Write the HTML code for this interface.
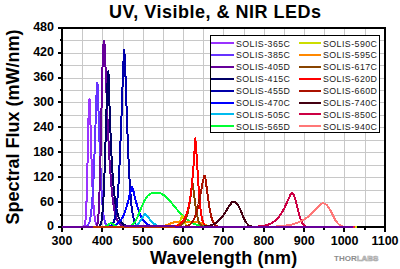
<!DOCTYPE html>
<html><head><meta charset="utf-8"><style>
html,body{margin:0;padding:0;background:#fff;width:400px;height:269px;overflow:hidden}
svg{display:block;position:absolute;left:0;top:0}
</style></head><body>
<svg width="400" height="269" viewBox="0 0 400 269">
<path d="M82.5,28V227 M102.5,28V227 M123.5,28V227 M143.5,28V227 M163.5,28V227 M183.5,28V227 M203.5,28V227 M223.5,28V227 M244.5,28V227 M264.5,28V227 M284.5,28V227 M304.5,28V227 M324.5,28V227 M344.5,28V227 M365.5,28V227 M62,215.5H385 M62,202.5H385 M62,190.5H385 M62,177.5H385 M62,165.5H385 M62,152.5H385 M62,140.5H385 M62,127.5H385 M62,115.5H385 M62,102.5H385 M62,90.5H385 M62,78.5H385 M62,65.5H385 M62,53.5H385 M62,40.5H385" stroke="#c8c8c8" stroke-width="1" fill="none" shape-rendering="crispEdges"/>
<path d="M58,28H385M62,27V232M385,27V228M61,227H385" stroke="#000" stroke-width="2" fill="none" shape-rendering="crispEdges"/>
<path d="M58,202H61 M58,177H61 M58,152H61 M58,127H61 M58,102H61 M58,78H61 M58,53H61 M58,28H61 M58,227H61 M60,215H61 M60,190H61 M60,165H61 M60,140H61 M60,115H61 M60,90H61 M60,65H61 M60,40H61 M62,228V232 M102,228V232 M143,228V232 M183,228V232 M223,228V232 M264,228V232 M304,228V232 M344,228V232 M385,228V232 M82,228V230 M123,228V230 M163,228V230 M203,228V230 M244,228V230 M284,228V230 M324,228V230 M365,228V230" stroke="#000" stroke-width="2" fill="none" shape-rendering="crispEdges"/>
<path d="M83.4,226.9 83.8,226.7 84.2,226.3 84.6,225.6 85.0,224.1 85.4,221.4 85.8,216.8 86.2,209.7 86.6,199.3 87.0,185.4 87.4,168.3 87.8,149.3 88.2,130.3 88.6,113.9 89.1,102.8 89.5,98.9 89.9,105.9 90.3,117.7 90.7,131.3 91.1,145.2 91.5,158.6 91.9,170.8 92.3,181.7 92.7,191.0 93.1,198.8 93.5,205.2 93.9,210.4 94.3,214.5 94.7,217.8 95.1,220.2 95.5,222.1 95.9,223.5 96.3,224.5 96.7,225.2 97.1,225.8 97.5,226.2 97.9,226.4 98.3,226.6 98.7,226.7 99.1,226.8" stroke="#9933ff" stroke-width="2" fill="none" stroke-linejoin="round" shape-rendering="crispEdges"/>
<path d="M85.0,226.8 85.4,226.7 85.8,226.6 86.2,226.4 86.6,226.2 87.0,226.0 87.4,225.6 87.8,225.2 88.2,224.6 88.6,223.9 89.1,222.9 89.5,221.7 89.9,220.2 90.3,218.2 90.7,215.9 91.1,213.0 91.5,209.5 91.9,205.2 92.3,200.1 92.7,194.2 93.1,187.2 93.5,179.2 93.9,170.2 94.3,160.1 94.7,149.1 95.1,137.3 95.5,125.0 95.9,112.6 96.3,100.7 96.7,90.1 97.1,82.5 97.5,83.8 97.9,92.7 98.3,104.1 98.7,116.7 99.1,129.6 99.5,142.2 100.0,154.2 100.4,165.2 100.8,175.1 101.2,183.9 101.6,191.5 102.0,198.1 102.4,203.7 102.8,208.3 103.2,212.2 103.6,215.3 104.0,217.9 104.4,219.9 104.8,221.5 105.2,222.8 105.6,223.8 106.0,224.6 106.4,225.2 106.8,225.7 107.2,226.0 107.6,226.3 108.0,226.5 108.4,226.6 108.8,226.7 109.2,226.8" stroke="#6633ff" stroke-width="2" fill="none" stroke-linejoin="round" shape-rendering="crispEdges"/>
<path d="M95.9,226.8 96.3,226.6 96.7,226.1 97.1,225.2 97.5,223.6 97.9,221.1 98.3,217.0 98.7,211.0 99.1,202.6 99.5,191.6 100.0,177.7 100.4,161.3 100.8,143.0 101.2,123.6 101.6,104.3 102.0,86.2 102.4,70.4 102.8,57.8 103.2,48.7 103.6,43.2 104.0,40.8 104.4,41.3 104.8,48.9 105.2,58.4 105.6,68.9 106.0,79.6 106.4,90.2 106.8,100.7 107.2,110.9 107.6,120.6 108.0,129.8 108.4,138.5 108.8,146.6 109.2,154.2 109.6,161.2 110.0,167.7 110.5,173.7 110.9,179.1 111.3,184.1 111.7,188.7 112.1,192.8 112.5,196.6 112.9,199.9 113.3,203.0 113.7,205.7 114.1,208.2 114.5,210.4 114.9,212.3 115.3,214.1 115.7,215.6 116.1,217.0 116.5,218.2 116.9,219.3 117.3,220.3 117.7,221.1 118.1,221.9 118.5,222.5 118.9,223.1 119.3,223.6 119.7,224.1 120.1,224.4 120.5,224.8 120.9,225.1 121.4,225.3 121.8,225.6 122.2,225.8 122.6,225.9 123.0,226.1 123.4,226.2 123.8,226.3 124.2,226.4 124.6,226.5 125.0,226.6 125.4,226.6 125.8,226.7 126.6,226.8" stroke="#660099" stroke-width="2" fill="none" stroke-linejoin="round" shape-rendering="crispEdges"/>
<path d="M98.3,226.8 98.7,226.7 99.1,226.4 99.5,226.1 100.0,225.6 100.4,224.9 100.8,223.8 101.2,222.3 101.6,220.2 102.0,217.3 102.4,213.6 102.8,208.8 103.2,202.7 103.6,195.4 104.0,186.6 104.4,176.4 104.8,164.9 105.2,152.4 105.6,139.2 106.0,125.7 106.4,112.5 106.8,100.2 107.2,89.4 107.6,80.7 108.0,74.7 108.4,71.5 108.8,79.5 109.2,95.0 109.6,108.9 110.0,121.3 110.5,132.5 110.9,142.4 111.3,151.3 111.7,159.3 112.1,166.4 112.5,172.8 112.9,178.5 113.3,183.6 113.7,188.1 114.1,192.2 114.5,195.9 114.9,199.1 115.3,202.1 115.7,204.7 116.1,207.0 116.5,209.1 116.9,211.0 117.3,212.7 117.7,214.2 118.1,215.5 118.5,216.8 118.9,217.8 119.3,218.8 119.7,219.7 120.1,220.4 120.5,221.1 120.9,221.7 121.4,222.3 121.8,222.8 122.2,223.2 122.6,223.6 123.0,224.0 123.4,224.3 123.8,224.6 124.2,224.8 124.6,225.1 125.0,225.3 125.4,225.5 125.8,225.6 126.2,225.8 126.6,225.9 127.0,226.0 127.4,226.1 127.8,226.2 128.2,226.3 128.6,226.4 129.0,226.4 129.4,226.5 129.8,226.5 130.6,226.6 131.4,226.7 132.3,226.8" stroke="#000066" stroke-width="2" fill="none" stroke-linejoin="round" shape-rendering="crispEdges"/>
<path d="M108.4,226.8 108.8,226.7 109.2,226.6 109.6,226.5 110.0,226.3 110.5,226.2 110.9,225.9 111.3,225.7 111.7,225.3 112.1,224.9 112.5,224.4 112.9,223.8 113.3,223.0 113.7,222.1 114.1,220.9 114.5,219.6 114.9,218.0 115.3,216.1 115.7,213.8 116.1,211.2 116.5,208.1 116.9,204.5 117.3,200.3 117.7,195.5 118.1,190.1 118.5,184.0 118.9,177.1 119.3,169.4 119.7,160.9 120.1,151.6 120.5,141.6 120.9,130.9 121.4,119.6 121.8,108.0 122.2,96.1 122.6,84.4 123.0,73.1 123.4,63.0 123.8,54.7 124.2,50.0 124.6,54.7 125.0,63.0 125.4,73.1 125.8,84.4 126.2,96.1 126.6,108.0 127.0,119.6 127.4,130.9 127.8,141.6 128.2,151.6 128.6,160.9 129.0,169.4 129.4,177.1 129.8,184.0 130.2,190.1 130.6,195.5 131.0,200.3 131.4,204.5 131.8,208.1 132.3,211.2 132.7,213.8 133.1,216.1 133.5,218.0 133.9,219.6 134.3,220.9 134.7,222.1 135.1,223.0 135.5,223.8 135.9,224.4 136.3,224.9 136.7,225.3 137.1,225.7 137.5,225.9 137.9,226.2 138.3,226.3 138.7,226.5 139.1,226.6 139.5,226.7 139.9,226.8" stroke="#0000aa" stroke-width="2" fill="none" stroke-linejoin="round" shape-rendering="crispEdges"/>
<path d="M106.4,226.8 107.2,226.7 108.0,226.7 108.8,226.6 109.2,226.5 109.6,226.5 110.0,226.4 110.5,226.4 110.9,226.3 111.3,226.2 111.7,226.1 112.1,226.0 112.5,225.9 112.9,225.8 113.3,225.7 113.7,225.6 114.1,225.5 114.5,225.3 114.9,225.1 115.3,224.9 115.7,224.7 116.1,224.5 116.5,224.3 116.9,224.0 117.3,223.8 117.7,223.5 118.1,223.1 118.5,222.8 118.9,222.4 119.3,222.0 119.7,221.5 120.1,221.0 120.5,220.5 120.9,219.9 121.4,219.3 121.8,218.7 122.2,218.0 122.6,217.3 123.0,216.5 123.4,215.6 123.8,214.7 124.2,213.8 124.6,212.7 125.0,211.7 125.4,210.5 125.8,209.3 126.2,208.1 126.6,206.8 127.0,205.4 127.4,203.9 127.8,202.5 128.2,200.9 128.6,199.3 129.0,197.7 129.4,196.1 129.8,194.4 130.2,192.8 130.6,191.2 131.0,189.6 131.4,188.2 131.8,187.1 132.3,187.3 132.7,188.5 133.1,189.9 133.5,191.5 133.9,193.1 134.3,194.8 134.7,196.4 135.1,198.0 135.5,199.7 135.9,201.2 136.3,202.8 136.7,204.2 137.1,205.7 137.5,207.0 137.9,208.3 138.3,209.6 138.7,210.8 139.1,211.9 139.5,212.9 139.9,214.0 140.3,214.9 140.7,215.8 141.1,216.6 141.5,217.4 141.9,218.1 142.3,218.8 142.8,219.5 143.2,220.1 143.6,220.6 144.0,221.1 144.4,221.6 144.8,222.0 145.2,222.5 145.6,222.8 146.0,223.2 146.4,223.5 146.8,223.8 147.2,224.1 147.6,224.3 148.0,224.6 148.4,224.8 148.8,225.0 149.2,225.2 149.6,225.3 150.0,225.5 150.4,225.6 150.8,225.7 151.2,225.9 151.6,226.0 152.0,226.1 152.4,226.2 152.8,226.2 153.2,226.3 153.7,226.4 154.1,226.4 154.5,226.5 155.3,226.6 156.1,226.7 156.9,226.7 157.3,226.8" stroke="#0000ff" stroke-width="2" fill="none" stroke-linejoin="round" shape-rendering="crispEdges"/>
<path d="M130.6,226.8 131.0,226.7 131.4,226.7 131.8,226.6 132.3,226.5 132.7,226.4 133.1,226.4 133.5,226.3 133.9,226.1 134.3,226.0 134.7,225.8 135.1,225.7 135.5,225.5 135.9,225.3 136.3,225.0 136.7,224.8 137.1,224.5 137.5,224.1 137.9,223.8 138.3,223.4 138.7,222.9 139.1,222.5 139.5,222.0 139.9,221.5 140.3,220.9 140.7,220.3 141.1,219.7 141.5,219.0 141.9,218.4 142.3,217.7 142.8,217.1 143.2,216.4 143.6,215.8 144.0,215.3 144.4,214.8 144.8,214.4 145.2,214.4 145.6,214.6 146.0,214.9 146.4,215.3 146.8,215.7 147.2,216.2 147.6,216.7 148.0,217.2 148.4,217.7 148.8,218.2 149.2,218.7 149.6,219.3 150.0,219.8 150.4,220.2 150.8,220.7 151.2,221.2 151.6,221.6 152.0,222.0 152.4,222.4 152.8,222.8 153.2,223.1 153.7,223.4 154.1,223.7 154.5,224.0 154.9,224.3 155.3,224.5 155.7,224.8 156.1,225.0 156.5,225.2 156.9,225.4 157.3,225.5 157.7,225.7 158.1,225.8 158.5,225.9 158.9,226.0 159.3,226.1 159.7,226.2 160.1,226.3 160.5,226.4 160.9,226.5 161.3,226.5 161.7,226.6 162.5,226.7 163.3,226.7 163.7,226.8" stroke="#00bbee" stroke-width="2" fill="none" stroke-linejoin="round" shape-rendering="crispEdges"/>
<path d="M104.0,226.8 104.4,226.7 104.8,226.6 105.2,226.5 105.6,226.3 106.0,226.1 106.4,225.9 106.8,225.7 107.2,225.4 107.6,225.1 108.0,224.7 108.4,224.4 108.8,224.1 109.2,223.8 109.6,223.6 110.0,223.4 110.5,223.3 111.3,223.3 111.7,223.4 112.1,223.6 112.5,223.8 112.9,224.1 113.3,224.4 113.7,224.7 114.1,225.1 114.5,225.4 114.9,225.7 115.3,225.9 115.7,226.1 116.1,226.3 116.5,226.5 116.9,226.6 117.3,226.7 117.7,226.8 118.1,226.9 118.9,226.9 120.5,227.0 125.8,226.9 127.0,226.8 127.4,226.8 127.8,226.7 128.2,226.7 128.6,226.6 129.0,226.5 129.4,226.4 129.8,226.3 130.2,226.1 130.6,225.9 131.0,225.7 131.4,225.5 131.8,225.2 132.3,224.9 132.7,224.5 133.1,224.1 133.5,223.7 133.9,223.2 134.3,222.7 134.7,222.1 135.1,221.5 135.5,220.8 135.9,220.1 136.3,219.3 136.7,218.5 137.1,217.7 137.5,216.9 137.9,216.0 138.3,215.0 138.7,214.1 139.1,213.1 139.5,212.1 139.9,211.1 140.3,210.1 140.7,209.1 141.1,208.2 141.5,207.2 141.9,206.2 142.3,205.3 142.8,204.3 143.2,203.4 143.6,202.6 144.0,201.7 144.4,200.9 144.8,200.2 145.2,199.4 145.6,198.8 146.0,198.1 146.4,197.5 146.8,197.0 147.2,196.5 147.6,196.0 148.0,195.5 148.4,195.2 148.8,194.8 149.2,194.5 149.6,194.2 150.0,193.9 150.4,193.7 150.8,193.5 151.2,193.4 151.6,193.2 152.0,193.1 152.4,193.0 152.8,192.9 153.2,192.9 154.1,192.8 155.3,192.7 158.5,192.8 158.9,192.9 159.3,193.0 159.7,193.1 160.1,193.2 160.5,193.3 160.9,193.5 161.3,193.7 161.7,193.9 162.1,194.1 162.5,194.3 162.9,194.6 163.3,194.8 163.7,195.1 164.1,195.4 164.6,195.7 165.0,196.0 165.4,196.4 165.8,196.7 166.2,197.1 166.6,197.5 167.0,197.9 167.4,198.3 167.8,198.7 168.2,199.1 168.6,199.5 169.0,200.0 169.4,200.4 169.8,200.9 170.2,201.4 170.6,201.8 171.0,202.3 171.4,202.8 171.8,203.3 172.2,203.7 172.6,204.2 173.0,204.7 173.4,205.2 173.8,205.7 174.2,206.2 174.6,206.7 175.1,207.2 175.5,207.7 175.9,208.2 176.3,208.7 176.7,209.2 177.1,209.6 177.5,210.1 177.9,210.6 178.3,211.1 178.7,211.5 179.1,212.0 179.5,212.5 179.9,212.9 180.3,213.3 180.7,213.8 181.1,214.2 181.5,214.6 181.9,215.1 182.3,215.5 182.7,215.9 183.1,216.3 183.5,216.6 183.9,217.0 184.3,217.4 184.7,217.8 185.1,218.1 185.5,218.5 186.0,218.8 186.4,219.1 186.8,219.4 187.2,219.7 187.6,220.0 188.0,220.3 188.4,220.6 188.8,220.9 189.2,221.2 189.6,221.4 190.0,221.7 190.4,221.9 190.8,222.1 191.2,222.4 191.6,222.6 192.0,222.8 192.4,223.0 192.8,223.2 193.2,223.4 193.6,223.5 194.0,223.7 194.4,223.9 194.8,224.0 195.2,224.2 195.6,224.3 196.0,224.5 196.4,224.6 196.9,224.7 197.3,224.9 197.7,225.0 198.1,225.1 198.5,225.2 198.9,225.3 199.3,225.4 199.7,225.5 200.1,225.6 200.5,225.7 200.9,225.7 201.3,225.8 201.7,225.9 202.1,226.0 202.5,226.0 202.9,226.1 203.3,226.1 203.7,226.2 204.1,226.2 204.9,226.3 205.7,226.4 206.5,226.5 207.3,226.6 208.2,226.6 209.0,226.7 210.2,226.7 210.6,226.8" stroke="#00ff33" stroke-width="2" fill="none" stroke-linejoin="round" shape-rendering="crispEdges"/>
<path d="M175.1,226.8 175.5,226.7 175.9,226.6 176.3,226.4 176.7,226.2 177.1,225.9 177.5,225.6 177.9,225.2 178.3,224.6 178.7,224.0 179.1,223.3 179.5,222.4 179.9,221.4 180.3,220.3 180.7,219.2 181.1,218.1 181.5,217.0 181.9,216.2 182.3,216.2 182.7,217.0 183.1,218.1 183.5,219.2 183.9,220.3 184.3,221.4 184.7,222.4 185.1,223.3 185.5,224.0 186.0,224.6 186.4,225.2 186.8,225.6 187.2,225.9 187.6,226.2 188.0,226.4 188.4,226.6 188.8,226.7 189.2,226.8" stroke="#ccdd00" stroke-width="2" fill="none" stroke-linejoin="round" shape-rendering="crispEdges"/>
<path d="M160.5,226.8 160.9,226.7 161.3,226.6 161.7,226.6 162.1,226.5 162.5,226.4 162.9,226.3 163.3,226.2 163.7,226.1 164.1,226.0 164.6,225.8 165.0,225.7 165.4,225.6 165.8,225.4 166.2,225.3 166.6,225.1 167.0,224.9 167.4,224.8 167.8,224.6 168.2,224.4 168.6,224.2 169.0,224.1 169.4,223.9 169.8,223.7 170.2,223.6 170.6,223.4 171.0,223.3 171.4,223.1 171.8,223.0 172.2,222.8 172.6,222.7 173.0,222.6 173.4,222.5 173.8,222.4 174.2,222.3 174.6,222.2 175.1,222.1 175.5,222.1 175.9,222.0 176.3,221.9 176.7,221.9 177.5,221.8 178.3,221.7 179.5,221.7 181.5,221.6 192.4,221.7 193.6,221.7 194.4,221.8 195.2,221.9 195.6,221.9 196.0,222.0 196.4,222.1 196.9,222.1 197.3,222.2 197.7,222.3 198.1,222.4 198.5,222.5 198.9,222.6 199.3,222.7 199.7,222.8 200.1,223.0 200.5,223.1 200.9,223.3 201.3,223.4 201.7,223.6 202.1,223.7 202.5,223.9 202.9,224.1 203.3,224.2 203.7,224.4 204.1,224.6 204.5,224.8 204.9,224.9 205.3,225.1 205.7,225.3 206.1,225.4 206.5,225.6 206.9,225.7 207.3,225.8 207.8,226.0 208.2,226.1 208.6,226.2 209.0,226.3 209.4,226.4 209.8,226.5 210.2,226.6 210.6,226.6 211.0,226.7 211.4,226.8" stroke="#ff8800" stroke-width="2" fill="none" stroke-linejoin="round" shape-rendering="crispEdges"/>
<path d="M175.1,226.8 175.9,226.7 176.3,226.7 176.7,226.6 177.1,226.6 177.5,226.5 177.9,226.4 178.3,226.3 178.7,226.2 179.1,226.1 179.5,225.9 179.9,225.8 180.3,225.6 180.7,225.4 181.1,225.2 181.5,224.9 181.9,224.6 182.3,224.3 182.7,223.9 183.1,223.4 183.5,222.9 183.9,222.4 184.3,221.7 184.7,221.0 185.1,220.2 185.5,219.4 186.0,218.4 186.4,217.2 186.8,216.0 187.2,214.6 187.6,213.1 188.0,211.4 188.4,209.6 188.8,207.6 189.2,205.4 189.6,203.0 190.0,200.4 190.4,197.7 190.8,194.8 191.2,191.8 191.6,188.7 192.0,185.7 192.4,183.2 192.8,184.7 193.2,187.2 193.6,190.3 194.0,193.7 194.4,197.1 194.8,200.4 195.2,203.7 195.6,206.7 196.0,209.5 196.4,212.1 196.9,214.3 197.3,216.4 197.7,218.1 198.1,219.6 198.5,220.9 198.9,222.0 199.3,223.0 199.7,223.7 200.1,224.4 200.5,224.9 200.9,225.3 201.3,225.7 201.7,226.0 202.1,226.2 202.5,226.4 202.9,226.5 203.3,226.6 203.7,226.7 204.1,226.8" stroke="#884400" stroke-width="2" fill="none" stroke-linejoin="round" shape-rendering="crispEdges"/>
<path d="M168.6,226.8 169.8,226.7 170.6,226.6 171.4,226.5 172.2,226.5 172.6,226.4 173.0,226.3 173.4,226.3 173.8,226.2 174.2,226.1 174.6,226.1 175.1,226.0 175.5,225.9 175.9,225.8 176.3,225.7 176.7,225.5 177.1,225.4 177.5,225.3 177.9,225.1 178.3,224.9 178.7,224.7 179.1,224.5 179.5,224.3 179.9,224.0 180.3,223.7 180.7,223.4 181.1,223.1 181.5,222.7 181.9,222.3 182.3,221.9 182.7,221.4 183.1,220.9 183.5,220.3 183.9,219.7 184.3,219.0 184.7,218.3 185.1,217.5 185.5,216.6 186.0,215.6 186.4,214.6 186.8,213.4 187.2,212.1 187.6,210.7 188.0,209.2 188.4,207.6 188.8,205.7 189.2,203.8 189.6,201.6 190.0,199.2 190.4,196.6 190.8,193.8 191.2,190.7 191.6,187.3 192.0,183.6 192.4,179.5 192.8,175.1 193.2,170.2 193.6,164.9 194.0,159.1 194.4,152.8 194.8,145.9 195.2,138.3 195.6,141.2 196.0,146.4 196.4,152.7 196.9,159.4 197.3,166.3 197.7,173.2 198.1,179.8 198.5,185.9 198.9,191.6 199.3,196.7 199.7,201.4 200.1,205.4 200.5,209.0 200.9,212.1 201.3,214.7 201.7,216.9 202.1,218.8 202.5,220.4 202.9,221.7 203.3,222.8 203.7,223.6 204.1,224.3 204.5,224.9 204.9,225.4 205.3,225.7 205.7,226.0 206.1,226.2 206.5,226.4 206.9,226.6 207.3,226.7 207.8,226.8 208.2,226.8" stroke="#ff0000" stroke-width="2" fill="none" stroke-linejoin="round" shape-rendering="crispEdges"/>
<path d="M183.1,226.8 183.9,226.7 184.3,226.6 184.7,226.6 185.1,226.5 185.5,226.4 186.0,226.3 186.4,226.2 186.8,226.1 187.2,226.0 187.6,225.8 188.0,225.7 188.4,225.5 188.8,225.3 189.2,225.0 189.6,224.8 190.0,224.5 190.4,224.1 190.8,223.7 191.2,223.3 191.6,222.9 192.0,222.4 192.4,221.8 192.8,221.2 193.2,220.5 193.6,219.8 194.0,219.0 194.4,218.1 194.8,217.1 195.2,216.1 195.6,214.9 196.0,213.7 196.4,212.4 196.9,211.0 197.3,209.5 197.7,207.9 198.1,206.2 198.5,204.5 198.9,202.6 199.3,200.6 199.7,198.6 200.1,196.5 200.5,194.4 200.9,192.2 201.3,190.0 201.7,187.8 202.1,185.7 202.5,183.5 202.9,181.5 203.3,179.6 203.7,177.9 204.1,176.5 204.5,175.6 204.9,176.0 205.3,177.9 205.7,180.4 206.1,183.3 206.5,186.4 206.9,189.6 207.3,192.8 207.8,196.0 208.2,199.1 208.6,202.0 209.0,204.7 209.4,207.3 209.8,209.6 210.2,211.8 210.6,213.7 211.0,215.5 211.4,217.1 211.8,218.4 212.2,219.7 212.6,220.8 213.0,221.7 213.4,222.5 213.8,223.2 214.2,223.8 214.6,224.4 215.0,224.8 215.4,225.2 215.8,225.5 216.2,225.8 216.6,226.0 217.0,226.2 217.4,226.3 217.8,226.4 218.3,226.5 218.7,226.6 219.1,226.7 219.5,226.8" stroke="#aa1100" stroke-width="2" fill="none" stroke-linejoin="round" shape-rendering="crispEdges"/>
<path d="M200.9,226.8 202.1,226.7 202.9,226.6 203.7,226.6 204.5,226.5 205.3,226.4 205.7,226.3 206.1,226.3 206.5,226.2 206.9,226.1 207.3,226.1 207.8,226.0 208.2,225.9 208.6,225.8 209.0,225.7 209.4,225.6 209.8,225.5 210.2,225.4 210.6,225.3 211.0,225.2 211.4,225.0 211.8,224.9 212.2,224.8 212.6,224.6 213.0,224.4 213.4,224.2 213.8,224.0 214.2,223.8 214.6,223.6 215.0,223.4 215.4,223.1 215.8,222.9 216.2,222.6 216.6,222.3 217.0,222.0 217.4,221.7 217.8,221.4 218.3,221.0 218.7,220.7 219.1,220.3 219.5,219.9 219.9,219.5 220.3,219.1 220.7,218.6 221.1,218.1 221.5,217.7 221.9,217.2 222.3,216.6 222.7,216.1 223.1,215.6 223.5,215.0 223.9,214.4 224.3,213.8 224.7,213.2 225.1,212.6 225.5,212.0 225.9,211.3 226.3,210.7 226.7,210.0 227.1,209.4 227.5,208.7 227.9,208.1 228.3,207.4 228.7,206.8 229.2,206.1 229.6,205.5 230.0,204.9 230.4,204.3 230.8,203.8 231.2,203.2 231.6,202.8 232.0,202.4 232.4,202.0 232.8,201.8 233.2,201.7 233.6,201.7 234.0,201.8 234.4,201.9 234.8,202.0 235.2,202.2 235.6,202.5 236.0,202.8 236.4,203.2 236.8,203.6 237.2,204.1 237.6,204.7 238.0,205.3 238.4,206.0 238.8,206.8 239.2,207.6 239.7,208.4 240.1,209.3 240.5,210.2 240.9,211.2 241.3,212.1 241.7,213.1 242.1,214.1 242.5,215.0 242.9,216.0 243.3,216.9 243.7,217.8 244.1,218.7 244.5,219.5 244.9,220.3 245.3,221.0 245.7,221.7 246.1,222.3 246.5,222.9 246.9,223.4 247.3,223.9 247.7,224.3 248.1,224.7 248.5,225.1 248.9,225.4 249.3,225.6 249.7,225.9 250.1,226.1 250.6,226.2 251.0,226.4 251.4,226.5 251.8,226.6 252.2,226.7 252.6,226.7 253.0,226.8" stroke="#440011" stroke-width="2" fill="none" stroke-linejoin="round" shape-rendering="crispEdges"/>
<path d="M253.8,226.8 255.0,226.7 256.2,226.6 257.0,226.6 257.8,226.5 258.6,226.5 259.4,226.4 260.2,226.3 261.0,226.2 261.5,226.2 261.9,226.1 262.3,226.1 262.7,226.0 263.1,225.9 263.5,225.9 263.9,225.8 264.3,225.7 264.7,225.6 265.1,225.5 265.5,225.4 265.9,225.3 266.3,225.2 266.7,225.1 267.1,225.0 267.5,224.9 267.9,224.7 268.3,224.6 268.7,224.4 269.1,224.3 269.5,224.1 269.9,224.0 270.3,223.8 270.7,223.6 271.1,223.4 271.5,223.2 271.9,222.9 272.4,222.7 272.8,222.5 273.2,222.2 273.6,221.9 274.0,221.6 274.4,221.3 274.8,221.0 275.2,220.7 275.6,220.3 276.0,220.0 276.4,219.6 276.8,219.2 277.2,218.8 277.6,218.3 278.0,217.9 278.4,217.4 278.8,216.9 279.2,216.4 279.6,215.9 280.0,215.3 280.4,214.7 280.8,214.2 281.2,213.5 281.6,212.9 282.0,212.2 282.4,211.5 282.9,210.8 283.3,210.1 283.7,209.3 284.1,208.6 284.5,207.8 284.9,207.0 285.3,206.1 285.7,205.3 286.1,204.4 286.5,203.5 286.9,202.6 287.3,201.7 287.7,200.8 288.1,199.9 288.5,199.0 288.9,198.1 289.3,197.2 289.7,196.3 290.1,195.4 290.5,194.6 290.9,193.9 291.3,193.3 291.7,193.0 292.1,193.1 292.5,193.3 292.9,193.7 293.3,194.3 293.8,195.1 294.2,196.0 294.6,197.1 295.0,198.3 295.4,199.6 295.8,201.1 296.2,202.6 296.6,204.2 297.0,205.9 297.4,207.5 297.8,209.2 298.2,210.9 298.6,212.5 299.0,214.0 299.4,215.5 299.8,216.8 300.2,218.1 300.6,219.3 301.0,220.4 301.4,221.3 301.8,222.2 302.2,223.0 302.6,223.6 303.0,224.2 303.4,224.7 303.8,225.2 304.2,225.5 304.7,225.8 305.1,226.1 305.5,226.3 305.9,226.4 306.3,226.6 306.7,226.7 307.1,226.7 307.5,226.8" stroke="#cc0044" stroke-width="2" fill="none" stroke-linejoin="round" shape-rendering="crispEdges"/>
<path d="M269.1,226.8 271.1,226.7 272.8,226.6 274.0,226.6 275.2,226.5 276.4,226.5 277.6,226.4 278.4,226.3 279.2,226.3 280.0,226.2 280.8,226.1 281.6,226.1 282.4,226.0 283.3,225.9 284.1,225.8 284.5,225.8 284.9,225.7 285.3,225.7 285.7,225.6 286.1,225.5 286.5,225.5 286.9,225.4 287.3,225.4 287.7,225.3 288.1,225.2 288.5,225.1 288.9,225.1 289.3,225.0 289.7,224.9 290.1,224.8 290.5,224.7 290.9,224.7 291.3,224.6 291.7,224.5 292.1,224.4 292.5,224.3 292.9,224.2 293.3,224.1 293.8,223.9 294.2,223.8 294.6,223.7 295.0,223.6 295.4,223.4 295.8,223.3 296.2,223.2 296.6,223.0 297.0,222.9 297.4,222.7 297.8,222.6 298.2,222.4 298.6,222.3 299.0,222.1 299.4,221.9 299.8,221.7 300.2,221.5 300.6,221.4 301.0,221.2 301.4,221.0 301.8,220.7 302.2,220.5 302.6,220.3 303.0,220.1 303.4,219.8 303.8,219.6 304.2,219.4 304.7,219.1 305.1,218.8 305.5,218.6 305.9,218.3 306.3,218.0 306.7,217.7 307.1,217.4 307.5,217.1 307.9,216.8 308.3,216.5 308.7,216.2 309.1,215.9 309.5,215.5 309.9,215.2 310.3,214.9 310.7,214.5 311.1,214.1 311.5,213.8 311.9,213.4 312.3,213.0 312.7,212.6 313.1,212.2 313.5,211.8 313.9,211.4 314.3,211.0 314.7,210.6 315.2,210.2 315.6,209.8 316.0,209.4 316.4,208.9 316.8,208.5 317.2,208.1 317.6,207.7 318.0,207.2 318.4,206.8 318.8,206.4 319.2,206.0 319.6,205.6 320.0,205.2 320.4,204.8 320.8,204.5 321.2,204.1 321.6,203.8 322.0,203.5 322.4,203.4 323.2,203.4 323.6,203.5 324.0,203.5 324.4,203.7 324.8,203.8 325.2,204.0 325.6,204.3 326.1,204.6 326.5,204.9 326.9,205.3 327.3,205.7 327.7,206.2 328.1,206.7 328.5,207.3 328.9,207.9 329.3,208.6 329.7,209.3 330.1,210.0 330.5,210.7 330.9,211.5 331.3,212.3 331.7,213.1 332.1,213.9 332.5,214.7 332.9,215.5 333.3,216.2 333.7,217.0 334.1,217.8 334.5,218.5 334.9,219.2 335.3,219.9 335.7,220.5 336.1,221.2 336.6,221.7 337.0,222.3 337.4,222.8 337.8,223.3 338.2,223.7 338.6,224.1 339.0,224.5 339.4,224.8 339.8,225.1 340.2,225.3 340.6,225.6 341.0,225.8 341.4,226.0 341.8,226.1 342.2,226.3 342.6,226.4 343.0,226.5 343.4,226.6 343.8,226.7 344.2,226.7 344.6,226.8" stroke="#ff7777" stroke-width="2" fill="none" stroke-linejoin="round" shape-rendering="crispEdges"/>
<path d="M62,227H93M175,227H353M124,226H175" stroke="#660099" stroke-width="2" fill="none" shape-rendering="crispEdges"/>
<path d="M93,227H124" stroke="#bb3300" stroke-width="2" fill="none" shape-rendering="crispEdges"/><path d="M124,227.5H175" stroke="#bb3300" stroke-width="1" fill="none" shape-rendering="crispEdges"/>
<path d="M353,227H355" stroke="#ee1144" stroke-width="2" shape-rendering="crispEdges"/><path d="M355,227H357" stroke="#dddd00" stroke-width="2" shape-rendering="crispEdges"/>
<g font-family="Liberation Sans" font-weight="bold" font-size="12.5" fill="#000"><text x="54" y="230.4" text-anchor="end">0</text><text x="54" y="205.5" text-anchor="end">60</text><text x="54" y="180.7" text-anchor="end">120</text><text x="54" y="155.8" text-anchor="end">180</text><text x="54" y="130.9" text-anchor="end">240</text><text x="54" y="106.0" text-anchor="end">300</text><text x="54" y="81.2" text-anchor="end">360</text><text x="54" y="56.3" text-anchor="end">420</text><text x="54" y="31.4" text-anchor="end">480</text><text x="62.0" y="244.5" text-anchor="middle">300</text><text x="102.4" y="244.5" text-anchor="middle">400</text><text x="142.8" y="244.5" text-anchor="middle">500</text><text x="183.1" y="244.5" text-anchor="middle">600</text><text x="223.5" y="244.5" text-anchor="middle">700</text><text x="263.9" y="244.5" text-anchor="middle">800</text><text x="304.2" y="244.5" text-anchor="middle">900</text><text x="344.6" y="244.5" text-anchor="middle">1000</text><text x="385.0" y="244.5" text-anchor="middle">1100</text></g>
<text x="109" y="17.7" font-family="Liberation Sans" font-weight="bold" font-size="18" letter-spacing="0.5">UV, Visible, &amp; NIR LEDs</text>
<text x="150" y="263.7" font-family="Liberation Sans" font-weight="bold" font-size="18" letter-spacing="0.2">Wavelength (nm)</text>
<text transform="translate(18.6,224.5) rotate(-90)" font-family="Liberation Sans" font-weight="bold" font-size="18">Spectral Flux (mW/nm)</text>
<rect x="210.5" y="35.5" width="169" height="97" fill="#fff" stroke="#000" stroke-width="1" shape-rendering="crispEdges"/>
<path d="M211,43H234" stroke="#9933ff" stroke-width="2" shape-rendering="crispEdges"/><text x="236" y="47" font-family="Liberation Sans" font-size="8.8" letter-spacing="0.45" fill="#1a1a1a">SOLIS-365C</text><path d="M211,55H234" stroke="#6633ff" stroke-width="2" shape-rendering="crispEdges"/><text x="236" y="58" font-family="Liberation Sans" font-size="8.8" letter-spacing="0.45" fill="#1a1a1a">SOLIS-385C</text><path d="M211,67H234" stroke="#660099" stroke-width="2" shape-rendering="crispEdges"/><text x="236" y="70" font-family="Liberation Sans" font-size="8.8" letter-spacing="0.45" fill="#1a1a1a">SOLIS-405D</text><path d="M211,79H234" stroke="#000066" stroke-width="2" shape-rendering="crispEdges"/><text x="236" y="82" font-family="Liberation Sans" font-size="8.8" letter-spacing="0.45" fill="#1a1a1a">SOLIS-415C</text><path d="M211,91H234" stroke="#0000aa" stroke-width="2" shape-rendering="crispEdges"/><text x="236" y="94" font-family="Liberation Sans" font-size="8.8" letter-spacing="0.45" fill="#1a1a1a">SOLIS-455D</text><path d="M211,103H234" stroke="#0000ff" stroke-width="2" shape-rendering="crispEdges"/><text x="236" y="106" font-family="Liberation Sans" font-size="8.8" letter-spacing="0.45" fill="#1a1a1a">SOLIS-470C</text><path d="M211,114H234" stroke="#00bbee" stroke-width="2" shape-rendering="crispEdges"/><text x="236" y="118" font-family="Liberation Sans" font-size="8.8" letter-spacing="0.45" fill="#1a1a1a">SOLIS-505C</text><path d="M211,126H234" stroke="#00ff33" stroke-width="2" shape-rendering="crispEdges"/><text x="236" y="130" font-family="Liberation Sans" font-size="8.8" letter-spacing="0.45" fill="#1a1a1a">SOLIS-565D</text><path d="M299,43H321" stroke="#ccdd00" stroke-width="2" shape-rendering="crispEdges"/><text x="323" y="47" font-family="Liberation Sans" font-size="8.8" letter-spacing="0.45" fill="#1a1a1a">SOLIS-590C</text><path d="M299,55H321" stroke="#ff8800" stroke-width="2" shape-rendering="crispEdges"/><text x="323" y="58" font-family="Liberation Sans" font-size="8.8" letter-spacing="0.45" fill="#1a1a1a">SOLIS-595C</text><path d="M299,67H321" stroke="#884400" stroke-width="2" shape-rendering="crispEdges"/><text x="323" y="70" font-family="Liberation Sans" font-size="8.8" letter-spacing="0.45" fill="#1a1a1a">SOLIS-617C</text><path d="M299,79H321" stroke="#ff0000" stroke-width="2" shape-rendering="crispEdges"/><text x="323" y="82" font-family="Liberation Sans" font-size="8.8" letter-spacing="0.45" fill="#1a1a1a">SOLIS-620D</text><path d="M299,91H321" stroke="#aa1100" stroke-width="2" shape-rendering="crispEdges"/><text x="323" y="94" font-family="Liberation Sans" font-size="8.8" letter-spacing="0.45" fill="#1a1a1a">SOLIS-660D</text><path d="M299,103H321" stroke="#440011" stroke-width="2" shape-rendering="crispEdges"/><text x="323" y="106" font-family="Liberation Sans" font-size="8.8" letter-spacing="0.45" fill="#1a1a1a">SOLIS-740C</text><path d="M299,114H321" stroke="#cc0044" stroke-width="2" shape-rendering="crispEdges"/><text x="323" y="118" font-family="Liberation Sans" font-size="8.8" letter-spacing="0.45" fill="#1a1a1a">SOLIS-850C</text><path d="M299,126H321" stroke="#ff7777" stroke-width="2" shape-rendering="crispEdges"/><text x="323" y="130" font-family="Liberation Sans" font-size="8.8" letter-spacing="0.45" fill="#1a1a1a">SOLIS-940C</text>
<text x="334" y="261" font-family="Liberation Sans" font-weight="bold" font-size="8" fill="#8c8c8c">THOR<tspan fill="#f4f4f4" stroke="#aaa" stroke-width="0.7">LABS</tspan></text>
</svg></body></html>
